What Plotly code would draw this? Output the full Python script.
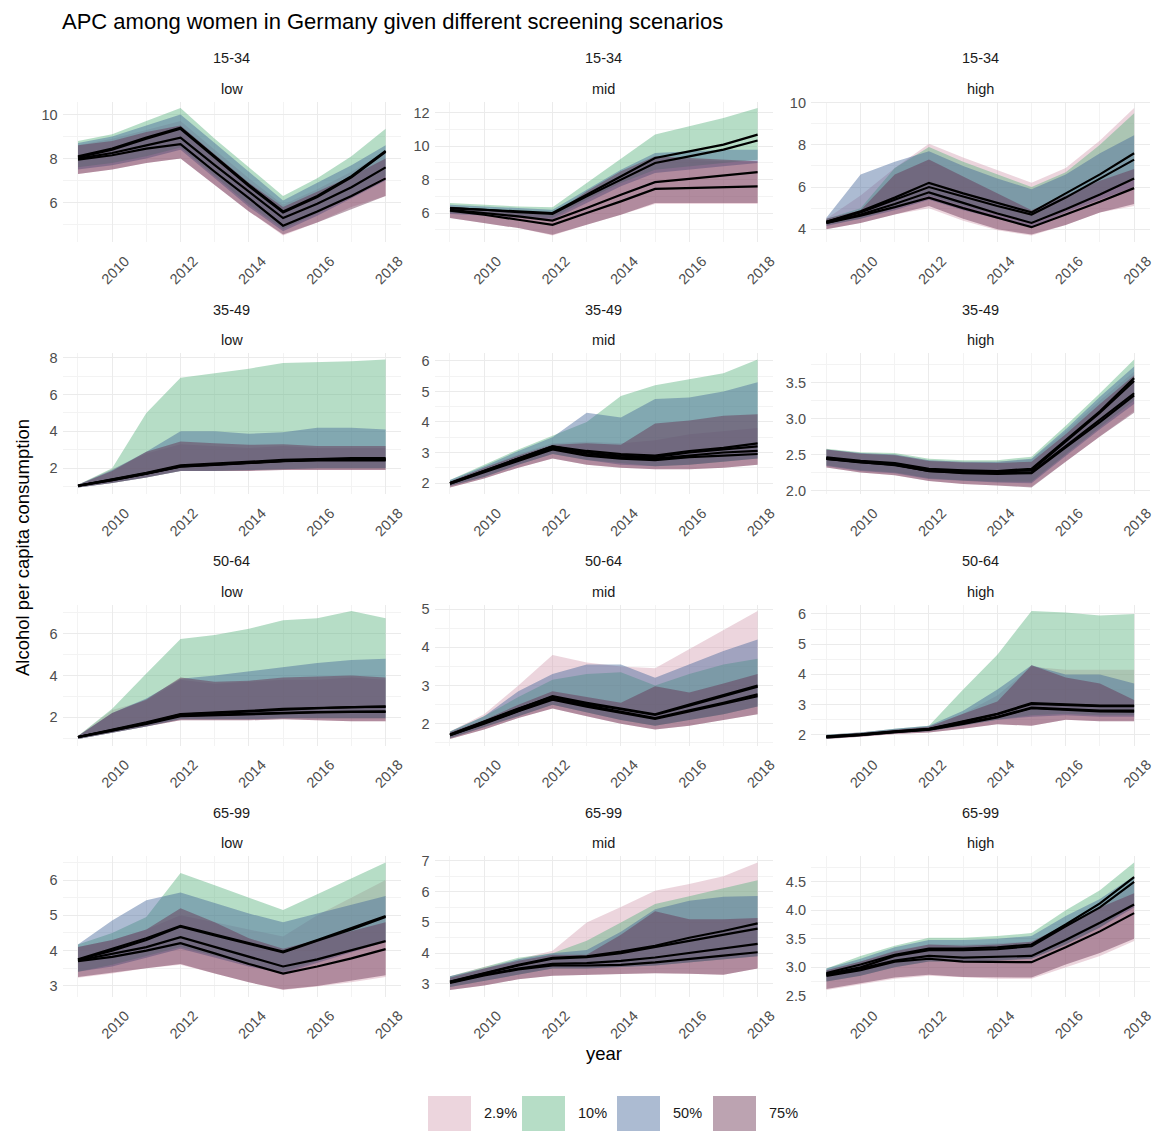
import plotly.graph_objects as go
from plotly.subplots import make_subplots

# ---------------- data ----------------
years = [2009, 2010, 2011, 2012, 2013, 2014, 2015, 2016, 2017, 2018]
scenarios = ["2.9%", "10%", "50%", "75%"]
age_groups = ["15-34", "35-49", "50-64", "65-99"]
levels = ["low", "mid", "high"]
x_ticks = [2010, 2012, 2014, 2016, 2018]

# each panel: scenario -> (lower bound, mean, upper bound)
p_15_34_low = {
    "2.9%": ([7.3, 7.5, 7.8, 8.0, 6.8, 5.6, 4.5, 5.1, 5.8, 6.3],
             [8.0, 8.25, 8.6, 8.95, 7.7, 6.5, 5.3, 5.95, 6.7, 7.6],
             [8.6, 8.9, 9.3, 9.7, 8.4, 7.1, 5.9, 6.6, 7.4, 8.3]),
    "10%": ([7.6, 7.8, 8.1, 8.5, 7.2, 5.9, 4.8, 5.5, 6.3, 7.2],
            [8.1, 8.45, 8.95, 9.4, 8.1, 6.8, 5.6, 6.3, 7.2, 8.35],
            [8.8, 9.1, 9.7, 10.3, 8.9, 7.6, 6.3, 7.1, 8.1, 9.35]),
    "50%": ([7.5, 7.7, 8.0, 8.4, 7.1, 5.8, 4.7, 5.4, 6.2, 7.0],
            [8.05, 8.4, 8.9, 9.35, 8.05, 6.75, 5.55, 6.25, 7.15, 8.3],
            [8.7, 9.0, 9.5, 10.0, 8.7, 7.4, 6.1, 6.9, 7.7, 8.6]),
    "75%": ([7.3, 7.5, 7.8, 8.0, 6.8, 5.6, 4.55, 5.1, 5.7, 6.3],
            [7.95, 8.15, 8.45, 8.65, 7.4, 6.2, 4.95, 5.6, 6.3, 7.1],
            [8.6, 8.8, 9.2, 9.5, 8.2, 6.9, 5.8, 6.5, 7.2, 8.0]),
}
p_15_34_mid = {
    "2.9%": ([5.7, 5.4, 5.1, 4.65, 5.3, 5.9, 6.55, 6.55, 6.55, 6.55],
             [6.2, 6.0, 5.8, 5.55, 6.3, 7.1, 7.85, 8.05, 8.25, 8.45],
             [6.4, 6.25, 6.05, 5.95, 7.2, 8.3, 9.3, 9.2, 9.1, 9.1]),
    "10%": ([6.0, 5.9, 5.8, 5.7, 6.8, 7.8, 8.6, 8.8, 9.0, 9.2],
            [6.3, 6.2, 6.1, 6.0, 7.1, 8.2, 9.3, 9.7, 10.1, 10.7],
            [6.6, 6.5, 6.4, 6.35, 7.8, 9.3, 10.7, 11.2, 11.7, 12.3]),
    "50%": ([5.95, 5.85, 5.7, 5.6, 6.6, 7.6, 8.4, 8.6, 8.8, 9.0],
            [6.3, 6.2, 6.05, 5.95, 7.0, 8.0, 9.0, 9.4, 9.8, 10.35],
            [6.5, 6.4, 6.3, 6.2, 7.4, 8.6, 9.6, 9.7, 9.8, 9.8]),
    "75%": ([5.7, 5.4, 5.1, 4.7, 5.3, 5.9, 6.6, 6.6, 6.6, 6.6],
            [6.15, 5.9, 5.6, 5.3, 6.0, 6.7, 7.45, 7.5, 7.55, 7.6],
            [6.4, 6.2, 6.0, 5.9, 7.3, 8.5, 9.4, 9.3, 9.2, 9.1]),
}
p_15_34_high = {
    "2.9%": ([4.0, 4.3, 4.7, 5.0, 4.4, 3.95, 3.7, 4.2, 4.8, 5.1],
             [4.3, 4.7, 5.2, 5.75, 5.25, 4.75, 4.3, 4.95, 5.65, 6.4],
             [4.5, 5.6, 6.9, 8.05, 7.4, 6.8, 6.2, 6.9, 8.2, 9.75]),
    "10%": ([4.2, 4.5, 5.0, 5.6, 5.1, 4.7, 4.3, 5.0, 5.7, 6.4],
            [4.35, 4.85, 5.5, 6.2, 5.7, 5.25, 4.8, 5.7, 6.6, 7.6],
            [4.5, 5.0, 6.9, 7.9, 7.2, 6.6, 6.0, 6.7, 8.0, 9.5]),
    "50%": ([4.15, 4.5, 4.9, 5.4, 4.9, 4.5, 4.1, 4.8, 5.4, 6.0],
            [4.35, 4.8, 5.4, 6.0, 5.55, 5.1, 4.7, 5.5, 6.4, 7.3],
            [4.55, 6.6, 7.2, 7.7, 7.0, 6.4, 5.9, 6.6, 7.6, 8.45]),
    "75%": ([4.0, 4.3, 4.7, 5.1, 4.5, 4.0, 3.75, 4.2, 4.8, 5.2],
            [4.3, 4.65, 5.05, 5.5, 5.0, 4.55, 4.1, 4.7, 5.3, 5.95],
            [4.5, 4.9, 6.6, 7.3, 6.5, 5.7, 4.9, 5.6, 6.3, 6.85]),
}
p_35_49_low = {
    "2.9%": ([0.95, 1.2, 1.5, 1.85, 1.85, 1.85, 1.9, 1.9, 1.9, 1.9],
             [1.05, 1.35, 1.7, 2.1, 2.2, 2.3, 2.4, 2.45, 2.45, 2.45],
             [1.1, 1.95, 2.8, 3.3, 3.2, 3.1, 3.2, 3.1, 3.1, 3.1]),
    "10%": ([0.95, 1.2, 1.5, 1.85, 1.85, 1.9, 1.95, 2.0, 2.0, 2.0],
            [1.05, 1.4, 1.75, 2.15, 2.25, 2.35, 2.45, 2.5, 2.55, 2.55],
            [1.1, 2.0, 5.0, 6.9, 7.15, 7.4, 7.7, 7.75, 7.8, 7.9]),
    "50%": ([0.95, 1.2, 1.5, 1.85, 1.85, 1.9, 1.95, 2.0, 2.0, 2.0],
            [1.05, 1.38, 1.72, 2.12, 2.22, 2.32, 2.42, 2.48, 2.5, 2.5],
            [1.1, 1.9, 2.9, 4.0, 4.0, 3.87, 3.95, 4.2, 4.2, 4.1]),
    "75%": ([0.95, 1.2, 1.5, 1.85, 1.85, 1.85, 1.9, 1.9, 1.9, 1.9],
            [1.05, 1.35, 1.7, 2.08, 2.18, 2.28, 2.38, 2.42, 2.42, 2.42],
            [1.1, 1.85, 2.9, 3.45, 3.35, 3.27, 3.3, 3.2, 3.2, 3.2]),
}
p_35_49_mid = {
    "2.9%": ([1.85, 2.15, 2.5, 2.8, 2.6, 2.5, 2.45, 2.45, 2.5, 2.6],
             [1.98, 2.38, 2.75, 3.15, 2.95, 2.85, 2.8, 2.9, 3.0, 3.05],
             [2.05, 2.5, 2.95, 3.3, 3.35, 3.3, 3.4, 3.6, 3.7, 3.8]),
    "10%": ([1.9, 2.2, 2.6, 2.95, 2.75, 2.65, 2.55, 2.6, 2.7, 2.8],
            [2.0, 2.4, 2.8, 3.2, 3.05, 2.95, 2.9, 3.05, 3.15, 3.3],
            [2.1, 2.6, 3.1, 3.55, 4.0, 4.85, 5.2, 5.4, 5.6, 6.05]),
    "50%": ([1.9, 2.2, 2.6, 2.95, 2.75, 2.6, 2.55, 2.6, 2.7, 2.8],
            [2.0, 2.4, 2.8, 3.2, 3.0, 2.9, 2.85, 3.0, 3.1, 3.2],
            [2.1, 2.55, 3.05, 3.5, 4.3, 4.15, 4.75, 4.8, 5.0, 5.3]),
    "75%": ([1.85, 2.15, 2.5, 2.8, 2.6, 2.5, 2.45, 2.45, 2.5, 2.6],
            [1.98, 2.35, 2.72, 3.1, 2.9, 2.8, 2.75, 2.85, 2.9, 2.95],
            [2.05, 2.5, 2.9, 3.25, 3.3, 3.25, 3.95, 4.05, 4.2, 4.25]),
}
p_35_49_high = {
    "2.9%": ([2.32, 2.25, 2.21, 2.13, 2.09, 2.07, 2.05, 2.4, 2.75, 3.1],
             [2.44, 2.39, 2.36, 2.27, 2.25, 2.24, 2.25, 2.62, 2.98, 3.35],
             [2.57, 2.52, 2.5, 2.42, 2.4, 2.4, 2.43, 2.82, 3.25, 3.65]),
    "10%": ([2.35, 2.28, 2.25, 2.17, 2.14, 2.12, 2.12, 2.5, 2.88, 3.25],
            [2.46, 2.41, 2.38, 2.3, 2.28, 2.27, 2.3, 2.7, 3.1, 3.56],
            [2.58, 2.53, 2.52, 2.44, 2.42, 2.42, 2.47, 2.9, 3.35, 3.82]),
    "50%": ([2.34, 2.27, 2.24, 2.16, 2.13, 2.11, 2.1, 2.48, 2.85, 3.2],
            [2.45, 2.4, 2.37, 2.29, 2.27, 2.26, 2.28, 2.68, 3.08, 3.52],
            [2.57, 2.52, 2.5, 2.42, 2.4, 2.4, 2.44, 2.85, 3.3, 3.72]),
    "75%": ([2.32, 2.25, 2.21, 2.13, 2.09, 2.07, 2.04, 2.4, 2.75, 3.08],
            [2.44, 2.39, 2.35, 2.27, 2.24, 2.23, 2.24, 2.6, 2.95, 3.32],
            [2.57, 2.51, 2.49, 2.41, 2.39, 2.38, 2.4, 2.78, 3.2, 3.6]),
}
p_50_64_low = {
    "2.9%": ([0.95, 1.25, 1.55, 1.85, 1.85, 1.85, 1.9, 1.85, 1.8, 1.8],
             [1.05, 1.35, 1.7, 2.08, 2.12, 2.17, 2.22, 2.25, 2.27, 2.28],
             [1.1, 2.35, 2.8, 3.8, 3.6, 3.7, 3.8, 3.8, 3.9, 3.8]),
    "10%": ([0.95, 1.25, 1.55, 1.9, 1.9, 1.9, 1.95, 1.95, 1.95, 1.95],
            [1.05, 1.4, 1.75, 2.15, 2.22, 2.3, 2.4, 2.45, 2.5, 2.52],
            [1.1, 2.4, 4.1, 5.75, 5.95, 6.25, 6.65, 6.75, 7.1, 6.75]),
    "50%": ([0.95, 1.25, 1.55, 1.9, 1.9, 1.9, 1.95, 1.95, 1.95, 1.95],
            [1.05, 1.4, 1.72, 2.12, 2.2, 2.28, 2.38, 2.43, 2.48, 2.5],
            [1.1, 2.2, 2.9, 3.85, 4.0, 4.2, 4.4, 4.6, 4.75, 4.8]),
    "75%": ([0.95, 1.25, 1.55, 1.85, 1.85, 1.85, 1.9, 1.85, 1.8, 1.8],
            [1.05, 1.35, 1.68, 2.05, 2.1, 2.15, 2.2, 2.23, 2.25, 2.25],
            [1.1, 2.2, 2.85, 3.9, 3.7, 3.75, 3.9, 3.95, 4.0, 3.9]),
}
p_50_64_mid = {
    "2.9%": ([1.6, 1.85, 2.15, 2.4, 2.2, 2.0, 1.85, 1.95, 2.1, 2.25],
             [1.7, 2.02, 2.35, 2.66, 2.48, 2.32, 2.15, 2.35, 2.55, 2.77],
             [1.8, 2.25, 3.0, 3.8, 3.6, 3.5, 3.45, 3.95, 4.45, 4.95]),
    "10%": ([1.62, 1.9, 2.2, 2.5, 2.3, 2.1, 1.95, 2.1, 2.25, 2.45],
            [1.72, 2.05, 2.4, 2.72, 2.55, 2.4, 2.25, 2.5, 2.75, 3.0],
            [1.8, 2.2, 2.7, 3.15, 3.3, 3.35, 3.0, 3.3, 3.55, 3.7]),
    "50%": ([1.62, 1.9, 2.2, 2.5, 2.3, 2.1, 1.95, 2.1, 2.25, 2.45],
            [1.72, 2.05, 2.4, 2.7, 2.52, 2.38, 2.23, 2.47, 2.72, 2.97],
            [1.8, 2.2, 2.85, 3.3, 3.55, 3.55, 3.2, 3.55, 3.9, 4.2]),
    "75%": ([1.6, 1.85, 2.15, 2.4, 2.2, 2.0, 1.85, 1.95, 2.1, 2.25],
            [1.7, 2.0, 2.33, 2.63, 2.45, 2.3, 2.13, 2.32, 2.52, 2.72],
            [1.78, 2.1, 2.5, 2.85, 2.7, 2.55, 2.98, 2.82, 3.05, 3.3]),
}
p_50_64_high = {
    "2.9%": ([1.86, 1.94, 2.03, 2.08, 2.2, 2.35, 2.3, 2.5, 2.45, 2.45],
             [1.93, 2.0, 2.1, 2.18, 2.38, 2.6, 2.9, 2.85, 2.8, 2.8],
             [2.0, 2.08, 2.18, 2.28, 2.7, 3.3, 4.25, 4.15, 4.15, 4.15]),
    "10%": ([1.87, 1.95, 2.05, 2.12, 2.3, 2.5, 2.65, 2.7, 2.65, 2.65],
            [1.95, 2.02, 2.12, 2.2, 2.45, 2.7, 3.05, 3.0, 2.97, 2.97],
            [2.0, 2.08, 2.2, 2.3, 3.5, 4.65, 6.1, 6.05, 5.95, 6.0]),
    "50%": ([1.87, 1.95, 2.05, 2.12, 2.3, 2.5, 2.6, 2.65, 2.6, 2.6],
            [1.94, 2.01, 2.11, 2.19, 2.43, 2.68, 3.02, 2.98, 2.95, 2.95],
            [2.0, 2.08, 2.2, 2.3, 2.8, 3.5, 4.3, 4.0, 4.0, 3.7]),
    "75%": ([1.86, 1.94, 2.03, 2.08, 2.2, 2.35, 2.3, 2.5, 2.45, 2.45],
            [1.92, 1.99, 2.09, 2.17, 2.36, 2.58, 2.88, 2.82, 2.78, 2.77],
            [1.98, 2.06, 2.17, 2.27, 2.7, 3.1, 4.3, 3.9, 3.7, 3.15]),
}
p_65_99_low = {
    "2.9%": ([3.23, 3.35, 3.5, 3.6, 3.35, 3.1, 2.88, 2.98, 3.1, 3.25],
             [3.72, 3.9, 4.1, 4.38, 4.1, 3.82, 3.55, 3.75, 4.0, 4.27],
             [4.1, 4.3, 4.6, 5.0, 4.8, 4.6, 4.4, 5.0, 5.5, 6.0]),
    "10%": ([3.4, 3.6, 3.85, 4.1, 3.85, 3.6, 3.4, 3.7, 4.0, 4.3],
            [3.75, 4.05, 4.35, 4.7, 4.45, 4.2, 3.97, 4.3, 4.65, 4.98],
            [4.17, 4.5, 4.95, 6.2, 5.85, 5.5, 5.15, 5.6, 6.05, 6.5]),
    "50%": ([3.4, 3.55, 3.8, 4.05, 3.8, 3.55, 3.35, 3.65, 3.95, 4.25],
            [3.74, 4.0, 4.3, 4.68, 4.43, 4.18, 3.95, 4.28, 4.6, 4.95],
            [4.17, 4.85, 5.43, 5.65, 5.35, 5.05, 4.8, 5.05, 5.3, 5.55]),
    "75%": ([3.25, 3.37, 3.5, 3.62, 3.35, 3.1, 2.9, 3.0, 3.15, 3.3],
            [3.7, 3.82, 4.0, 4.21, 3.92, 3.62, 3.35, 3.55, 3.78, 4.04],
            [4.1, 4.3, 4.6, 5.2, 4.8, 4.35, 4.05, 4.3, 4.55, 4.8]),
}
p_65_99_mid = {
    "2.9%": ([2.8, 2.95, 3.15, 3.27, 3.3, 3.32, 3.35, 3.33, 3.3, 3.5],
             [3.05, 3.3, 3.5, 3.65, 3.68, 3.75, 3.86, 4.0, 4.15, 4.3],
             [3.25, 3.55, 3.8, 4.08, 5.0, 5.5, 6.03, 6.25, 6.5, 6.95]),
    "10%": ([2.9, 3.1, 3.3, 3.5, 3.5, 3.55, 3.6, 3.7, 3.8, 3.9],
            [3.08, 3.35, 3.62, 3.85, 3.9, 4.05, 4.24, 4.5, 4.72, 4.97],
            [3.25, 3.55, 3.85, 4.0, 4.4, 5.0, 5.6, 5.85, 6.1, 6.37]),
    "50%": ([2.9, 3.1, 3.3, 3.5, 3.5, 3.55, 3.6, 3.7, 3.8, 3.9],
            [3.07, 3.33, 3.6, 3.82, 3.87, 4.0, 4.2, 4.42, 4.6, 4.8],
            [3.25, 3.5, 3.8, 4.0, 4.1, 4.7, 5.43, 5.7, 5.83, 5.86]),
    "75%": ([2.8, 2.95, 3.15, 3.27, 3.3, 3.32, 3.35, 3.33, 3.3, 3.5],
            [3.03, 3.28, 3.47, 3.6, 3.6, 3.62, 3.7, 3.8, 3.92, 4.03],
            [3.2, 3.5, 3.75, 3.95, 3.95, 4.6, 5.36, 5.1, 5.1, 5.14]),
}
p_65_99_high = {
    "2.9%": ([2.6, 2.7, 2.8, 2.85, 2.82, 2.8, 2.8, 3.0, 3.2, 3.46],
             [2.87, 2.98, 3.12, 3.2, 3.17, 3.18, 3.2, 3.48, 3.78, 4.1],
             [2.95, 3.1, 3.3, 3.4, 3.4, 3.42, 3.45, 3.75, 4.1, 4.5]),
    "10%": ([2.75, 2.85, 3.0, 3.1, 3.1, 3.12, 3.15, 3.4, 3.7, 4.1],
            [2.9, 3.05, 3.22, 3.33, 3.33, 3.35, 3.4, 3.75, 4.12, 4.58],
            [2.98, 3.2, 3.38, 3.52, 3.52, 3.55, 3.6, 4.0, 4.35, 4.84]),
    "50%": ([2.75, 2.85, 3.0, 3.1, 3.1, 3.12, 3.15, 3.4, 3.7, 4.05],
            [2.88, 3.0, 3.2, 3.3, 3.3, 3.32, 3.37, 3.72, 4.05, 4.5],
            [2.98, 3.15, 3.35, 3.48, 3.48, 3.5, 3.55, 3.9, 4.2, 4.6]),
    "75%": ([2.62, 2.72, 2.82, 2.87, 2.83, 2.82, 2.82, 3.05, 3.25, 3.5],
            [2.85, 2.95, 3.1, 3.15, 3.1, 3.09, 3.09, 3.35, 3.63, 3.95],
            [2.95, 3.1, 3.28, 3.4, 3.38, 3.4, 3.45, 3.75, 4.05, 4.3]),
}

panels = [
    [p_15_34_low, p_15_34_mid, p_15_34_high],
    [p_35_49_low, p_35_49_mid, p_35_49_high],
    [p_50_64_low, p_50_64_mid, p_50_64_high],
    [p_65_99_low, p_65_99_mid, p_65_99_high],
]
y_steps = [[2, 2, 2], [2, 1, 0.5], [2, 1, 1], [1, 1, 0.5]]

# ---------------- style ----------------
W, H = 1162, 1131
FONT = "Liberation Sans, Arial, sans-serif"
ALPHA = 0.43
base_rgb = {"2.9%": (211, 157, 177), "10%": (86, 177, 124),
            "50%": (62, 97, 151), "75%": (100, 42, 75)}
TICK_SIZE = 14.5
STRIP_SIZE = 14.5
AXIS_TITLE_SIZE = 18.5
TITLE_SIZE = 22


def rgba(s):
    r, g, b = base_rgb[s]
    return f"rgba({r},{g},{b},{ALPHA})"


col_px = [(62.6, 401.0), (434.6, 773.0), (811.0, 1149.5)]
row_px = [(101.5, 242.0), (353.0, 494.0), (604.5, 745.5), (856.0, 996.5)]

fig = make_subplots(rows=4, cols=3, horizontal_spacing=0.02, vertical_spacing=0.02)

for ri in range(4):
    for ci in range(3):
        pdata = panels[ri][ci]
        r, c = ri + 1, ci + 1
        allv = []
        for s in scenarios:
            lo, mn, hi = pdata[s]
            allv += lo + mn + hi
            fig.add_trace(go.Scatter(
                x=years + years[::-1], y=hi + lo[::-1], fill="toself",
                fillcolor=rgba(s), line=dict(width=0), mode="lines",
                name=s, showlegend=False, hoverinfo="skip"), row=r, col=c)
        for s in scenarios:
            lo, mn, hi = pdata[s]
            fig.add_trace(go.Scatter(
                x=years, y=mn, mode="lines", line=dict(color="black", width=2.2),
                name=s, showlegend=False), row=r, col=c)
        vmin, vmax = min(allv), max(allv)
        span = vmax - vmin
        step = y_steps[ri][ci]
        fig.update_yaxes(
            range=[vmin - 0.05 * span, vmax + 0.05 * span],
            domain=[1 - row_px[ri][1] / H, 1 - row_px[ri][0] / H],
            tick0=0, dtick=step, tickformat=".1f" if step < 1 else "d",
            automargin=False,
            showgrid=True, gridcolor="#ebebeb", gridwidth=1,
            minor=dict(showgrid=True, gridcolor="#f3f3f3", gridwidth=0.6, dtick=step / 2),
            zeroline=False, showline=False, ticks="", ticklabelstandoff=4,
            tickfont=dict(family=FONT, size=TICK_SIZE, color="#4d4d4d"),
            row=r, col=c)
        fig.update_xaxes(
            range=[2008.55, 2018.45],
            domain=[col_px[ci][0] / W, col_px[ci][1] / W],
            tickvals=x_ticks, tickangle=-45,
            ticklabelshift=13, ticklabelstandoff=7,
            automargin=False,
            showgrid=True, gridcolor="#ebebeb", gridwidth=1,
            minor=dict(showgrid=True, gridcolor="#f3f3f3", gridwidth=0.6, dtick=1, tick0=2009),
            zeroline=False, showline=False, ticks="",
            tickfont=dict(family=FONT, size=TICK_SIZE, color="#4d4d4d"),
            row=r, col=c)

annotations = []
for ri in range(4):
    top = row_px[ri][0]
    for ci in range(3):
        cx = (col_px[ci][0] + col_px[ci][1]) / 2 / W
        annotations.append(dict(x=cx, y=1 - (top - 43) / H, xref="paper", yref="paper",
                                text=age_groups[ri], showarrow=False,
                                font=dict(family=FONT, size=STRIP_SIZE, color="#1a1a1a"),
                                xanchor="center", yanchor="middle"))
        annotations.append(dict(x=cx, y=1 - (top - 13) / H, xref="paper", yref="paper",
                                text=levels[ci], showarrow=False,
                                font=dict(family=FONT, size=STRIP_SIZE, color="#1a1a1a"),
                                xanchor="center", yanchor="middle"))

annotations.append(dict(x=604 / W, y=1 - 1053 / H, xref="paper", yref="paper", text="year",
                        showarrow=False, font=dict(family=FONT, size=AXIS_TITLE_SIZE, color="#000000"),
                        xanchor="center", yanchor="middle"))
annotations.append(dict(x=22 / W, y=1 - 548 / H, xref="paper", yref="paper",
                        text="Alcohol per capita consumption", textangle=-90,
                        showarrow=False, font=dict(family=FONT, size=AXIS_TITLE_SIZE, color="#000000"),
                        xanchor="center", yanchor="middle"))

# legend (keys and labels)
shapes = []
legend_x = [428, 522, 617, 713]
for s, lx in zip(scenarios, legend_x):
    shapes.append(dict(type="rect", xref="paper", yref="paper",
                       x0=lx / W, x1=(lx + 43) / W, y0=1 - 1131 / H, y1=1 - 1096 / H,
                       fillcolor=rgba(s), line=dict(width=0), layer="below"))
    annotations.append(dict(x=(lx + 54) / W, y=1 - 1113 / H, xref="paper", yref="paper",
                            text=s, showarrow=False,
                            font=dict(family=FONT, size=STRIP_SIZE, color="#1a1a1a"),
                            xanchor="left", yanchor="middle"))

fig.update_layout(
    autosize=True,
    margin=dict(l=0, r=0, t=0, b=0, pad=0, autoexpand=False),
    paper_bgcolor="white", plot_bgcolor="white",
    title=dict(text="APC among women in Germany given different screening scenarios",
               x=62 / W, xanchor="left", y=1 - 21 / H, yanchor="middle",
               font=dict(family=FONT, size=TITLE_SIZE, color="#000000")),
    annotations=annotations, shapes=shapes,
    showlegend=False,
)

fig.write_html(
    "out.html",
    default_width="100vw", default_height="100vh",
    config={"displayModeBar": False, "responsive": True},
    post_script="document.body.style.margin='0';document.body.style.overflow='hidden';"
                "document.documentElement.style.overflow='hidden';",
)
